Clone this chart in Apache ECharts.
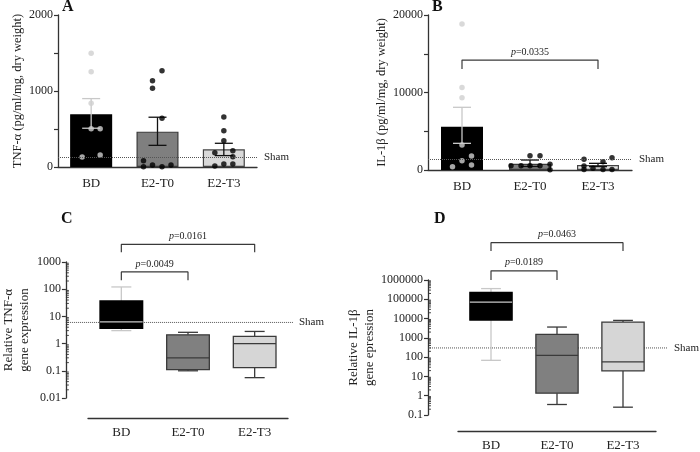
<!DOCTYPE html>
<html><head><meta charset="utf-8">
<script src="https://cdn.jsdelivr.net/npm/echarts@6/dist/echarts.min.js"></script>
<style>html,body{margin:0;padding:0;background:#fff}#c{width:700px;height:452px}</style>
</head><body><div id="c"></div>
<script>
// ---------- data ----------
const categories = ['BD', 'E2-T0', 'E2-T3'];

// Panel A: TNF-α protein (pg/ml/mg)
const tnfMean = [693, 465, 233];
const tnfSemLow = [510, 285, 150];
const tnfSemHigh = [900, 655, 312];
const tnfBD = [1496, 1254, 838, 504, 504, 132, 158];
const tnfT0 = [1268, 1136, 1035, 640, 83, 4, 26, 4, 26];
const tnfT3 = [658, 478, 346, 188, 214, 136, 13, 39, 39];
const tnfSham = 130;

// Panel B: IL-1β protein (pg/ml/mg)
const il1Mean = [5590, 810, 640];
const il1SemLow = [3440, 450, 430];
const il1SemHigh = [8090, 1290, 860];
const il1BD = [18840, 10660, 9330, 3225, 1806, 1204, 645, 430];
const il1T0 = [1850, 1850, 560, 560, 560, 560, 730, 20];
const il1T3 = [1380, 1590, 1080, 520, 220, 60, 60, 60];
const il1Sham = 1380;
const bracketB = [{from: 0, to: 2, low: 13030, high: 14190, p: '0.0335'}];

// Panel C: relative TNF-α gene expression, boxes [min, Q1, median, Q3, max]
const tnfGeneBox = [[3.0, 3.6, 6.3, 37, 121], [0.1, 0.11, 0.3, 2.1, 2.6], [0.056, 0.13, 1.0, 1.85, 2.8]];
const tnfGeneSham = 6;
const bracketsC = [{from: 0, to: 1, low: 214, high: 430, p: '0.0049'}, {from: 0, to: 2, low: 2265, high: 4450, p: '0.0161'}];
const tnfGeneTicks = [0.01, 0.1, 1, 10, 100, 1000];

// Panel D: relative IL-1β gene expression
const il1GeneBox = [[55, 7500, 67000, 220000, 350000], [0.25, 1, 100, 1300, 3200], [0.18, 15, 45, 5900, 7200]];
const il1GeneSham = 300;
const bracketsD = [{from: 0, to: 1, low: 1e6, high: 3.0e6, p: '0.0189'}, {from: 0, to: 2, low: 3.2e7, high: 8.6e7, p: '0.0463'}];
const il1GeneTicks = [0.1, 1, 10, 100, 1000, 10000, 100000, 1000000];

// ---------- style / layout ----------
const FONT = "'Liberation Serif', 'Times New Roman', serif";
const AX = '#333';
const TXT = '#222';
const jitA = [[0, 0, 0, 0, 9, -9, 9], [4.5, -5, -5, 4.5, -14, -14, -5, 4.5, 13.5], [0, 0, 0, -9, 9, 9, -9, 0, 9]];
const jitB = [[0, 0, 0, 0, 9.5, 0, 9.5, -9.5], [0, 10, -19, -9, 0, 10, 20, 20], [-14, 14, 5, -14, -5, 5, 14, -14]];
const barFillA = ['#000', '#7f7f7f', '#d9d9d9'];
const barFillB = ['#000', '#7f7f7f', '#e6e6e6'];
const barBorder = ['#000', '#3a3a3a', '#444'];
const errCol = ['#c8c8c8', '#111', '#111'];
const dotCol = ['#cfcfcf', '#000', '#000'];
const boxFill = ['#000', '#808080', '#d6d6d6'];
const boxBorder = ['#000', '#3a3a3a', '#3a3a3a'];
const whiskCol = ['#c8c8c8', '#3a3a3a', '#3a3a3a'];

// plot boxes for the log panels, and extra decades above them for the p-value brackets
const C = {left: 88, width: 200, top: 262, height: 136, extra: 2};
const D = {left: 458, width: 198, top: 280, height: 135, extra: 3};
const decades = t => Math.round(Math.log10(t[t.length - 1] / t[0]));
function extGrid(P, ticks) {
  const dh = P.height / decades(ticks);
  return {left: P.left, width: P.width, top: P.top - P.extra * dh, height: P.height + P.extra * dh};
}

const fmtNum = v => String(+(+v).toPrecision(6));

function catAxis(gridIndex, offset, margin, show) {
  return {type: 'category', gridIndex, data: categories, offset: offset, show: show !== false,
    axisLine: {show: true, lineStyle: {color: AX, width: 1.3}}, axisTick: {show: false},
    axisLabel: {fontSize: 13, color: TXT, margin, fontFamily: FONT}, splitLine: {show: false}};
}
function hiddenVal(gridIndex) {
  return {type: 'value', gridIndex, min: 0, max: 1, show: false, splitLine: {show: false}};
}
function linY(gridIndex, max, interval, labelStep, name, gap) {
  return {type: 'value', gridIndex, min: 0, max, interval,
    axisLine: {show: true, lineStyle: {color: AX, width: 1.3}},
    axisTick: {show: true, length: 4, lineStyle: {color: AX, width: 1.2}},
    axisLabel: {fontSize: 12, color: TXT, margin: 5, fontFamily: FONT, formatter: v => (v % labelStep === 0 ? String(v) : '')},
    splitLine: {show: false},
    name, nameLocation: 'middle', nameRotate: 90, nameGap: gap,
    nameTextStyle: {fontSize: 12.5, color: TXT, fontFamily: FONT}};
}
function logY(gridIndex, min, max, show, name, gap) {
  return {type: 'log', logBase: 10, gridIndex, min, max, show,
    axisLine: {show: true, lineStyle: {color: AX, width: 1.3}},
    axisTick: {show: true, length: 4, lineStyle: {color: AX, width: 1.2}},
    axisLabel: {fontSize: 12, color: TXT, margin: 5, fontFamily: FONT, formatter: fmtNum},
    splitLine: {show: false},
    name, nameLocation: 'middle', nameRotate: 90, nameGap: gap,
    nameTextStyle: {fontSize: 13, color: TXT, fontFamily: FONT, lineHeight: 16}};
}

function barSeries(ai, means, fills, sham) {
  return {type: 'bar', xAxisIndex: ai, yAxisIndex: ai, barWidth: 42, silent: true, z: 2,
    data: means.map((v, i) => ({value: v, itemStyle: {color: fills[i], borderColor: barBorder[i], borderWidth: 1.2}})),
    markLine: {silent: true, symbol: 'none', data: [{yAxis: sham}],
      lineStyle: {type: 'dotted', color: '#555', width: 1},
      label: {position: 'end', formatter: 'Sham', fontSize: 11, color: TXT, fontFamily: FONT, distance: 7}}};
}
function errorSeries(ai, lows, highs) {
  return {type: 'custom', xAxisIndex: ai, yAxisIndex: ai, z: 3, silent: true,
    data: lows.map((l, i) => [i, l, highs[i]]), encode: {x: 0, y: [1, 2]},
    renderItem: (params, api) => {
      const i = api.value(0);
      const lo = api.coord([i, api.value(1)]), hi = api.coord([i, api.value(2)]);
      const hw = 9, st = {stroke: errCol[params.dataIndex], lineWidth: 1.3};
      return {type: 'group', children: [
        {type: 'line', shape: {x1: lo[0], y1: lo[1], x2: hi[0], y2: hi[1]}, style: st},
        {type: 'line', shape: {x1: hi[0] - hw, y1: hi[1], x2: hi[0] + hw, y2: hi[1]}, style: st},
        {type: 'line', shape: {x1: lo[0] - hw, y1: lo[1], x2: lo[0] + hw, y2: lo[1]}, style: st}]};
    }};
}
function dotSeries(ai, groups, jit, size) {
  const data = [];
  groups.forEach((g, i) => g.forEach((v, k) => data.push({value: [i, v], symbolOffset: [jit[i][k], 0], itemStyle: {color: dotCol[i]}})));
  return {type: 'scatter', xAxisIndex: ai, yAxisIndex: ai, symbolSize: size, data, z: 4, silent: true};
}
function bracketSeries(ai, b) {
  return {type: 'line', xAxisIndex: ai, yAxisIndex: ai, clip: false, symbol: 'none', silent: true, z: 5,
    data: [[b.from, b.low], [b.from, b.high], [b.to, b.high], [b.to, b.low]],
    lineStyle: {color: '#3a3a3a', width: 1.2},
    markLine: {silent: true, symbol: 'none', lineStyle: {color: 'rgba(0,0,0,0)', width: 0},
      data: [[{coord: [b.from, b.high]}, {coord: [b.to, b.high]}]],
      label: {show: true, position: 'middle', formatter: '{i|p}=' + b.p, fontSize: 10, color: TXT, fontFamily: FONT, distance: 3,
        rich: {i: {fontStyle: 'italic', fontSize: 10, fontFamily: FONT, color: TXT}}}}};
}
function boxSeries(ai, boxes) {
  return {type: 'custom', xAxisIndex: ai, yAxisIndex: ai, z: 3, silent: true,
    data: boxes.map((b, i) => [i].concat(b)), encode: {x: 0, y: [1, 2, 3, 4, 5]},
    renderItem: (params, api) => {
      const i = api.value(0), k = params.dataIndex;
      const p = [1, 2, 3, 4, 5].map(d => api.coord([i, api.value(d)]));
      const band = api.size([1, 0])[0];
      const bw = band * 0.64, cw = band * 0.3, x = p[0][0];
      const ws = {stroke: whiskCol[k], lineWidth: 1.3};
      return {type: 'group', children: [
        {type: 'line', shape: {x1: x, y1: p[4][1], x2: x, y2: p[3][1]}, style: ws},
        {type: 'line', shape: {x1: x, y1: p[1][1], x2: x, y2: p[0][1]}, style: ws},
        {type: 'line', shape: {x1: x - cw / 2, y1: p[4][1], x2: x + cw / 2, y2: p[4][1]}, style: ws},
        {type: 'line', shape: {x1: x - cw / 2, y1: p[0][1], x2: x + cw / 2, y2: p[0][1]}, style: ws},
        {type: 'rect', shape: {x: x - bw / 2, y: p[3][1], width: bw, height: p[1][1] - p[3][1]},
          style: {fill: boxFill[k], stroke: boxBorder[k], lineWidth: 1.3}},
        {type: 'line', shape: {x1: x - bw / 2, y1: p[2][1], x2: x + bw / 2, y2: p[2][1]}, style: {stroke: whiskCol[k], lineWidth: 1.3}}]};
    }};
}
function shamSeries(ai, v) {
  return {type: 'line', xAxisIndex: ai, yAxisIndex: ai, data: [[0, v], [1, v]], symbol: 'none', silent: true, z: 1,
    lineStyle: {type: 'dotted', color: '#555', width: 1},
    endLabel: {show: true, formatter: 'Sham', fontSize: 11, color: TXT, fontFamily: FONT, distance: 6}};
}
// log-axis minor ticks (2..9 × each decade), drawn inward from the axis line
function minorTickSeries(ai, ticks) {
  const vals = [];
  ticks.slice(0, -1).forEach(d => { for (let m = 2; m <= 9; m++) vals.push([0, +(d * m).toPrecision(6)]); });
  return {type: 'custom', xAxisIndex: ai, yAxisIndex: ai, z: 6, silent: true, clip: false,
    data: vals, encode: {x: 0, y: 1},
    renderItem: (params, api) => {
      const pt = api.coord([0, api.value(1)]);
      return {type: 'line', shape: {x1: pt[0], y1: pt[1], x2: pt[0] + 3, y2: pt[1]}, style: {stroke: AX, lineWidth: 0.9}};
    }};
}

const letter = (t, left, top) => ({text: t, left, top, padding: 0,
  textStyle: {fontSize: 16, fontWeight: 'bold', fontFamily: FONT, color: '#111'}});

const cMin = tnfGeneTicks[0], cMax = tnfGeneTicks[tnfGeneTicks.length - 1];
const dMin = il1GeneTicks[0], dMax = il1GeneTicks[il1GeneTicks.length - 1];

const option = {
  animation: false,
  backgroundColor: '#fff',
  textStyle: {fontFamily: FONT},
  title: [letter('A', 62, -1), letter('B', 432, -1), letter('C', 61, 211), letter('D', 434, 211)],
  grid: [
    {left: 58, top: 15, width: 199, height: 152},
    {left: 428, top: 15, width: 204, height: 155},
    {left: C.left, top: C.top, width: C.width, height: C.height},
    {left: 59, top: C.top, width: 234, height: C.height},
    {left: D.left, top: D.top, width: D.width, height: D.height},
    {left: 428, top: D.top, width: 240, height: D.height},
    extGrid(C, tnfGeneTicks),
    extGrid(D, il1GeneTicks)
  ],
  xAxis: [
    catAxis(0, 0, 10),
    catAxis(1, 0, 10),
    catAxis(2, 20, 8),
    hiddenVal(3),
    catAxis(4, 19, 8),
    hiddenVal(5),
    catAxis(6, 0, 8, false),
    catAxis(7, 0, 8, false)
  ],
  yAxis: [
    linY(0, 2000, 500, 1000, 'TNF-α (pg/ml/mg, dry weight)', 34),
    linY(1, 20000, 5000, 10000, 'IL-1β (pg/ml/mg, dry weight)', 40),
    logY(2, cMin, cMax, false),
    logY(3, cMin, cMax, true, 'Relative TNF-α\ngene expression', 29),
    logY(4, dMin, dMax, false),
    logY(5, dMin, dMax, true, 'Relative IL-1β\ngene epression', 47),
    logY(6, cMin, cMax * Math.pow(10, C.extra), false),
    logY(7, dMin, dMax * Math.pow(10, D.extra), false)
  ],
  series: [
    barSeries(0, tnfMean, barFillA, tnfSham),
    errorSeries(0, tnfSemLow, tnfSemHigh),
    dotSeries(0, [tnfBD, tnfT0, tnfT3], jitA, 5.5),
    barSeries(1, il1Mean, barFillB, il1Sham),
    errorSeries(1, il1SemLow, il1SemHigh),
    dotSeries(1, [il1BD, il1T0, il1T3], jitB, 5.5),
    ...bracketB.map(b => bracketSeries(1, b)),
    shamSeries(3, tnfGeneSham),
    minorTickSeries(3, tnfGeneTicks),
    boxSeries(2, tnfGeneBox),
    ...bracketsC.map(b => bracketSeries(6, b)),
    shamSeries(5, il1GeneSham),
    minorTickSeries(5, il1GeneTicks),
    boxSeries(4, il1GeneBox),
    ...bracketsD.map(b => bracketSeries(7, b))
  ]
};
const chart = echarts.init(document.getElementById('c'));
chart.setOption(option);
</script>
</body></html>
